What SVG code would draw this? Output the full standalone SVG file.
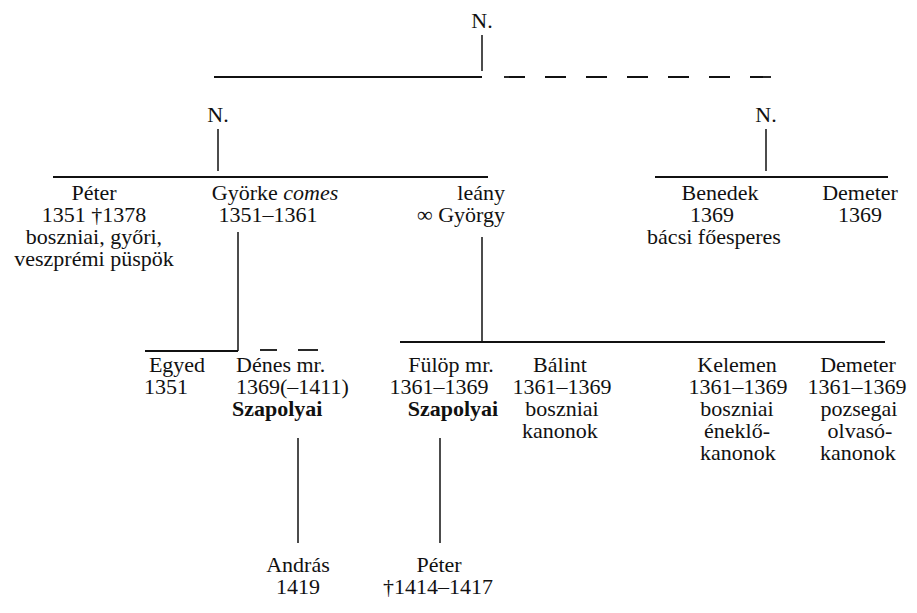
<svg xmlns="http://www.w3.org/2000/svg" width="917" height="613" viewBox="0 0 917 613">
<style>
text{font-family:"Liberation Serif","Times New Roman",serif;font-size:22px;fill:#111;text-anchor:middle}
.b{font-weight:bold}
.s{text-anchor:start}
.e{text-anchor:end}
.ln{stroke:#111;stroke-width:1.8;fill:none}
.v{stroke:#111;stroke-width:1.5;fill:none}
</style>
<rect width="917" height="613" fill="#fff"/>
<g id="connectors">
<line class="v" x1="482" y1="35" x2="482" y2="71"/>
<line class="ln" x1="214" y1="77" x2="482" y2="77"/>
<line class="ln" x1="504" y1="77" x2="771" y2="77" stroke-dasharray="21 20"/>
<line class="v" x1="218" y1="129" x2="218" y2="171"/>
<line class="v" x1="766" y1="129" x2="766" y2="171"/>
<line class="ln" x1="53" y1="177" x2="488" y2="177"/>
<line class="ln" x1="655" y1="177" x2="888" y2="177"/>
<line class="v" x1="238" y1="232" x2="238" y2="351"/>
<line class="ln" x1="145" y1="351" x2="238" y2="351"/>
<line class="ln" x1="260" y1="350" x2="277" y2="350"/>
<line class="ln" x1="298" y1="350" x2="318" y2="350"/>
<line class="v" x1="482" y1="237" x2="482" y2="342"/>
<line class="ln" x1="400" y1="342" x2="885" y2="342"/>
<line class="v" x1="298" y1="438" x2="298" y2="543"/>
<line class="v" x1="440" y1="438" x2="440" y2="543"/>
</g>
<g id="n-top"><text x="482" y="28">N.</text></g>
<g id="n-left"><text x="218" y="122">N.</text></g>
<g id="n-right"><text x="766" y="122">N.</text></g>
<g id="peter1"><text x="94" y="200">Péter</text><text x="94" y="222">1351 †1378</text><text x="94" y="244">boszniai, győri,</text><text x="94" y="266">veszprémi püspök</text></g>
<g id="gyorke"><text x="275" y="200">Györke <tspan font-style="italic">comes</tspan></text><text x="268" y="222">1351–1361</text></g>
<g id="leany"><text class="e" x="505" y="200">leány</text><text class="e" x="505" y="222">∞ György</text></g>
<g id="benedek"><text x="720" y="200">Benedek</text><text x="712" y="222">1369</text><text x="714" y="244">bácsi főesperes</text></g>
<g id="demeter1"><text x="860" y="200">Demeter</text><text x="860" y="222">1369</text></g>
<g id="egyed"><text x="177" y="372">Egyed</text><text x="166" y="394">1351</text></g>
<g id="denes"><text class="s" x="236" y="372">Dénes mr.</text><text class="s" x="236" y="394">1369(–1411)</text><text class="s b" x="232" y="416">Szapolyai</text></g>
<g id="fulop"><text x="451" y="372">Fülöp mr.</text><text x="439" y="394">1361–1369</text><text class="b" x="453" y="416">Szapolyai</text></g>
<g id="balint"><text x="560" y="372">Bálint</text><text x="562" y="394">1361–1369</text><text x="562" y="416">boszniai</text><text x="560" y="438">kanonok</text></g>
<g id="kelemen"><text x="737" y="372">Kelemen</text><text x="738" y="394">1361–1369</text><text x="737" y="416">boszniai</text><text x="737" y="438">éneklő-</text><text x="738" y="460">kanonok</text></g>
<g id="demeter2"><text x="858" y="372">Demeter</text><text x="857" y="394">1361–1369</text><text x="859" y="416">pozsegai</text><text x="860" y="438">olvasó-</text><text x="858" y="460">kanonok</text></g>
<g id="andras"><text x="298" y="572">András</text><text x="298" y="594">1419</text></g>
<g id="peter2"><text x="439" y="572">Péter</text><text x="438" y="594">†1414–1417</text></g>
</svg>
